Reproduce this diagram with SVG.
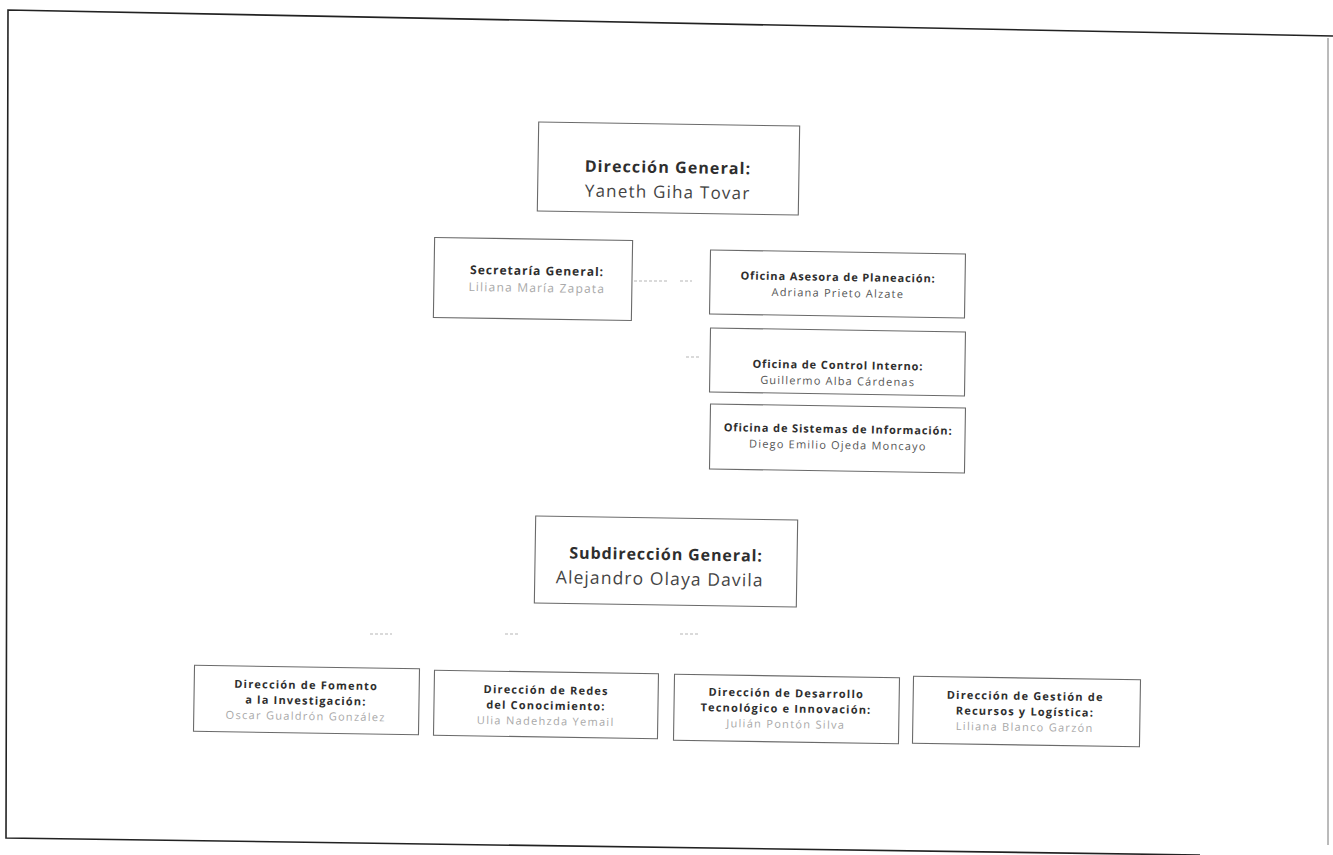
<svg xmlns="http://www.w3.org/2000/svg" width="1333" height="855" viewBox="0 0 1333 855">
<style>
.box{fill:#ffffff;stroke:#6a6a6a;stroke-width:1.1}
.t{font-family:"Open Sans","Noto Sans",sans-serif;font-weight:700;fill:#2e2e2e;text-anchor:middle;font-size:11px;letter-spacing:0.9px}
.n{font-family:"Open Sans","Noto Sans",sans-serif;font-weight:400;fill:#555;text-anchor:middle;font-size:11px;letter-spacing:1.2px}
.nl{font-family:"Open Sans","Noto Sans",sans-serif;font-weight:400;fill:#a8a8a8;text-anchor:middle;font-size:11px;letter-spacing:1.3px}
.big{font-size:16px;letter-spacing:1.1px}
.bign{font-size:17px;letter-spacing:1.2px;fill:#444}
.b{letter-spacing:1.2px}
.c{stroke:#b5b5b5;stroke-width:1;fill:none;stroke-dasharray:3 2}
.frame{fill:none;stroke:#222;stroke-width:1.6}
</style>
<rect width="1333" height="855" fill="#ffffff"/>
<g id="frame">
<path class="frame" d="M1333 36 L8 10 L6 838 L1200 855"/>
<path d="M1328 38 L1328 845" stroke="#777" stroke-width="1" fill="none"/>
</g>
<g id="connectors">
<path class="c" d="M634 281 H668 M680 281 H692"/>
<path class="c" d="M686 357 H700"/>
<path class="c" d="M370 634 H392 M505 634 H520 M680 634 H700" stroke="#e4e4e4"/>
</g>
<g id="direccion-general" transform="rotate(0.9 668 168)">
<rect class="box" x="538" y="124" width="261" height="89"/>
<text class="t big" x="668" y="173">Dirección General:</text>
<text class="n bign" x="668" y="198">Yaneth Giha Tovar</text>
</g>
<g id="secretaria-general" transform="rotate(0.9 533 279)">
<rect class="box" x="434" y="239" width="198" height="80"/>
<text class="t" x="537" y="275" style="font-size:12px;letter-spacing:1px">Secretaría General:</text>
<text class="nl" x="537" y="292" style="font-size:12px;letter-spacing:1.2px">Liliana María Zapata</text>
</g>
<g id="oficina-planeacion" transform="rotate(0.9 838 284)">
<rect class="box" x="710" y="252" width="255" height="64"/>
<text class="t" x="838" y="281">Oficina Asesora de Planeación:</text>
<text class="n" x="838" y="297">Adriana Prieto Alzate</text>
</g>
<g id="oficina-control" transform="rotate(0.9 838 362)">
<rect class="box" x="710" y="330" width="255" height="64"/>
<text class="t" x="838" y="369">Oficina de Control Interno:</text>
<text class="n" x="838" y="385">Guillermo Alba Cárdenas</text>
</g>
<g id="oficina-sistemas" transform="rotate(0.9 838 438)">
<rect class="box" x="710" y="406" width="255" height="65"/>
<text class="t" x="838" y="433">Oficina de Sistemas de Información:</text>
<text class="n" x="838" y="449">Diego Emilio Ojeda Moncayo</text>
</g>
<g id="subdireccion-general" transform="rotate(0.9 666 562)">
<rect class="box" x="535" y="518" width="262" height="87"/>
<text class="t big" x="666" y="560" style="letter-spacing:0.9px">Subdirección General:</text>
<text class="n bign" x="660" y="585" style="font-size:17.5px;letter-spacing:1.1px">Alejandro Olaya Davila</text>
</g>
<g id="direccion-fomento" transform="rotate(0.9 306 700)">
<rect class="box" x="194" y="667" width="225" height="66"/>
<text class="t b" x="306" y="689">Dirección de Fomento</text>
<text class="t b" x="306" y="704.5">a la Investigación:</text>
<text class="nl" x="306" y="720">Oscar Gualdrón González</text>
</g>
<g id="direccion-redes" transform="rotate(0.9 546 704)">
<rect class="box" x="434" y="672" width="224" height="65"/>
<text class="t b" x="546" y="694">Dirección de Redes</text>
<text class="t b" x="546" y="709.5">del Conocimiento:</text>
<text class="nl" x="546" y="725">Ulia Nadehzda Yemail</text>
</g>
<g id="direccion-desarrollo" transform="rotate(0.9 786 709)">
<rect class="box" x="674" y="676" width="225" height="66"/>
<text class="t b" x="786" y="697">Dirección de Desarrollo</text>
<text class="t b" x="786" y="712.5">Tecnológico e Innovación:</text>
<text class="nl" x="786" y="728">Julián Pontón Silva</text>
</g>
<g id="direccion-gestion" transform="rotate(0.9 1026 711)">
<rect class="box" x="913" y="678" width="227" height="67"/>
<text class="t b" x="1025" y="700">Dirección de Gestión de</text>
<text class="t b" x="1025" y="715.5">Recursos y Logística:</text>
<text class="nl" x="1025" y="731">Liliana Blanco Garzón</text>
</g>
</svg>
